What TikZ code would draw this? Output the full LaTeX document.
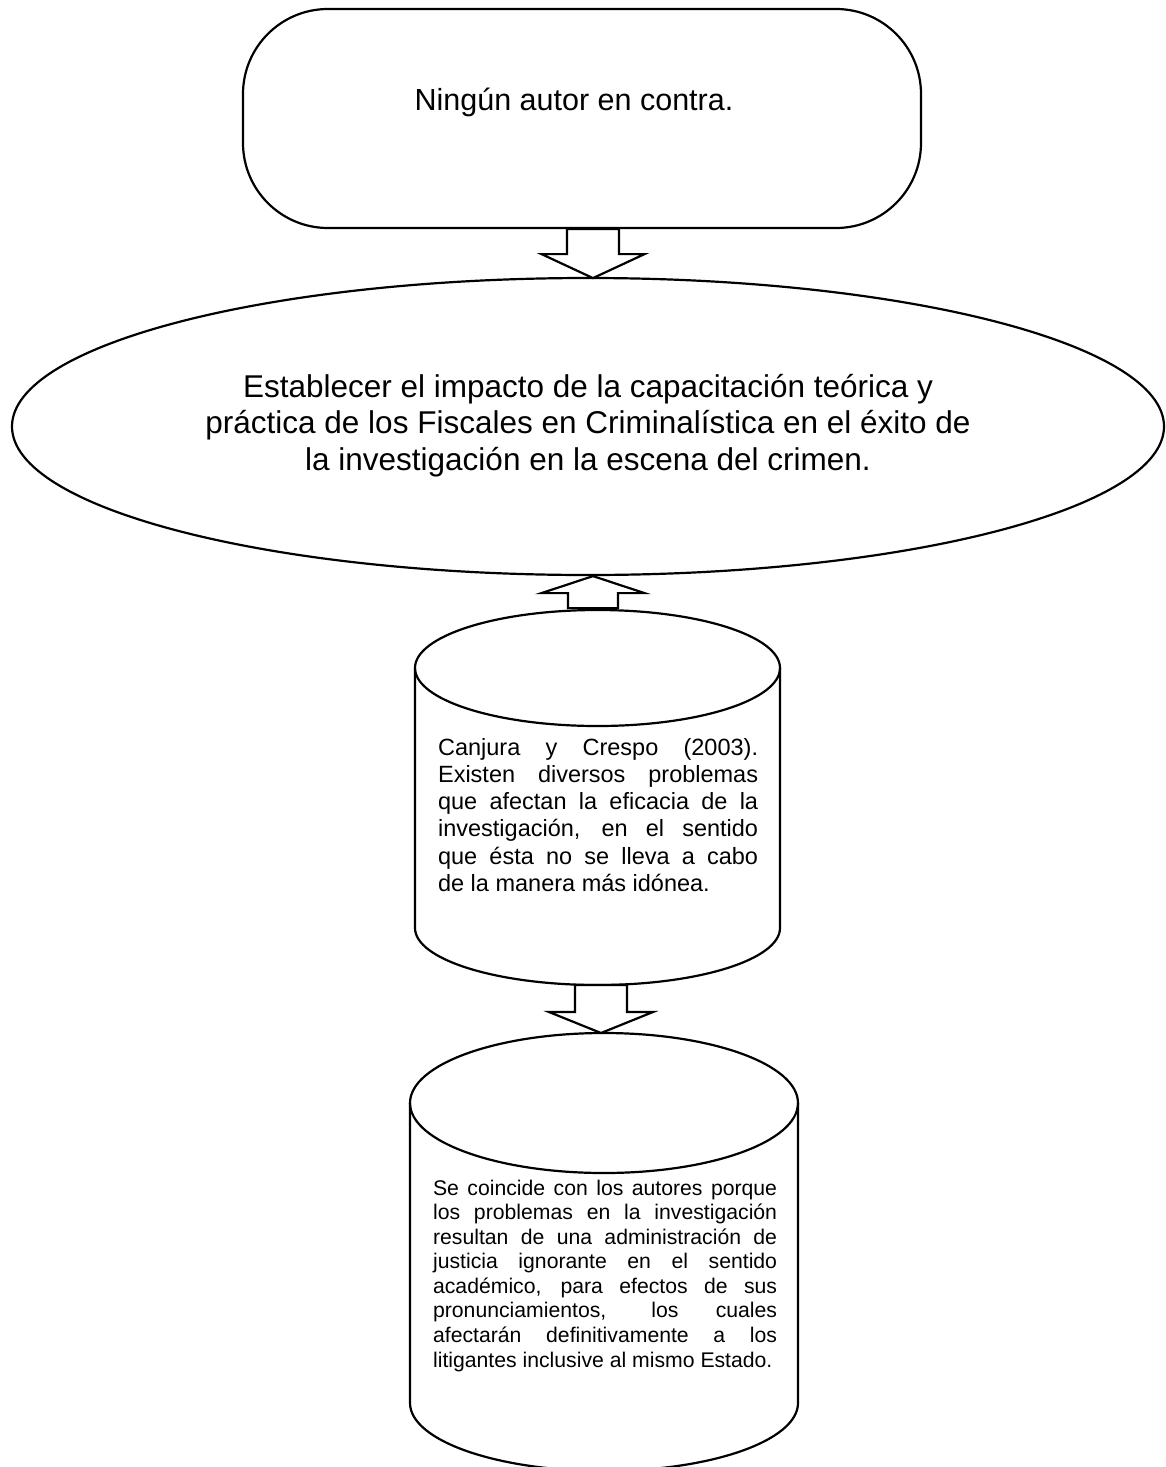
\documentclass[tikz,border=0pt]{standalone}
\usepackage{fontspec}
\setmainfont{Liberation Sans}
\usetikzlibrary{shapes.geometric,calc}
\begin{document}
\begin{tikzpicture}[x=1pt,y=-1pt,line width=2.2pt,
  blk/.style={draw,fill=white,line join=miter},
  boxtext/.style={inner sep=0pt}]
\useasboundingbox (0,0) rectangle (1165,1467);
\clip (0,0) rectangle (1165,1467);
% top rounded box
\node[draw,rounded corners=85pt,minimum width=678pt,minimum height=219pt,inner sep=0pt] (box) at (582,118.5) {};
\node[boxtext,anchor=base,font=\fontsize{30.5}{35}\selectfont] (boxtxt) at (574,110) {Ningún autor en contra.};
% ellipse
\node[draw,ellipse,minimum width=1152pt,minimum height=297pt,inner sep=0pt] (ell) at (588,426.5) {};
\node[boxtext,anchor=base,font=\fontsize{31.5}{36.5}\selectfont] (elltxt) at (588,397) {\begin{tabular}[t]{@{}c@{}}Establecer el impacto de la capacitación teórica y\\ práctica de los Fiscales en Criminalística en el éxito de\\ la investigación en la escena del crimen.\end{tabular}};
% cylinder 1
\coordinate (c1top) at (597.5,610);
\coordinate (c1bot) at (597.5,985);
\draw (415,668) -- (415,928) arc[start angle=180,end angle=0,x radius=182.5,y radius=57] -- (780,668);
\draw (597.5,668) ellipse[x radius=182.5,y radius=58];
\node[boxtext,anchor=base west,font=\fontsize{23.5}{27.3}\selectfont] (c1) at (437,755) {\parbox[t]{320pt}{%
\makebox[320pt][s]{Canjura y Crespo (2003).}\\
\makebox[320pt][s]{Existen diversos problemas}\\
\makebox[320pt][s]{que afectan la eficacia de la}\\
\makebox[320pt][s]{investigación, en el sentido}\\
\makebox[320pt][s]{que ésta no se lleva a cabo}\\
de la manera más idónea.}};
% cylinder 2
\coordinate (c2top) at (604,1033);
\draw (410,1103) -- (410,1403) arc[start angle=180,end angle=0,x radius=194,y radius=68] -- (798,1103);
\draw (604,1103) ellipse[x radius=194,y radius=70];
\node[boxtext,anchor=base west,font=\fontsize{21.2}{24.57}\selectfont] (c2) at (432,1195) {\parbox[t]{344pt}{%
\makebox[344pt][s]{Se coincide con los autores porque}\\
\makebox[344pt][s]{los problemas en la investigación}\\
\makebox[344pt][s]{resultan de una administración de}\\
\makebox[344pt][s]{justicia ignorante en el sentido}\\
\makebox[344pt][s]{académico, para efectos de sus}\\
\makebox[344pt][s]{pronunciamientos, los cuales}\\
\makebox[344pt][s]{afectarán definitivamente a los}\\
litigantes inclusive al mismo Estado.}};
% block arrows
\draw[blk] ($(box.south)+(11,0)$) ++(-26,0) -- ++(0,25) -- ++(-25.5,0) -- ++(51.5,24) -- ++(51.5,-24) -- ++(-25.5,0) -- ++(0,-25) -- cycle;
\draw[blk] ($(ell.south)+(5,0)$) -- ++(51.5,17) -- ++(-26.5,0) -- ++(0,15) -- ++(-50,0) -- ++(0,-15) -- ++(-26.5,0) -- cycle;
\draw[blk] ($(c1bot)+(3.5,0)$) ++(-26,0) -- ++(0,27) -- ++(-26,0) -- ++(52,21) -- ++(52,-21) -- ++(-26,0) -- ++(0,-27) -- cycle;
\end{tikzpicture}
\end{document}
